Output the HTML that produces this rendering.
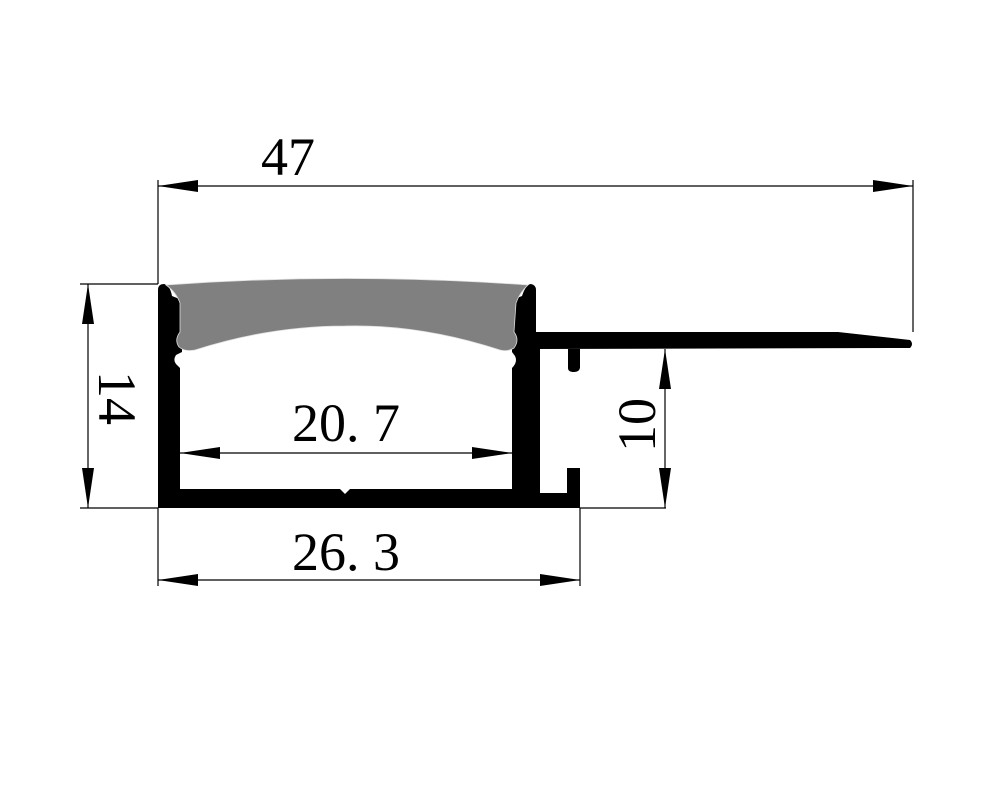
<!DOCTYPE html>
<html><head><meta charset="utf-8"><style>
html,body{margin:0;padding:0;background:#fff;}
svg{display:block;}
text{font-family:"Liberation Serif",serif;font-size:54px;fill:#000;}
</style></head><body>
<svg width="1000" height="787" viewBox="0 0 1000 787" xmlns="http://www.w3.org/2000/svg">
<path fill="#000" d="M158,290 Q158,284 164,284 Q170,285 172,296 L182,300 L182,352 L176,355 Q172,361 178,366 L180,368 L180,489 L512,489 L512,368 Q518,362 515,356 L512,352 L512,300 L522,296 Q526,284 531,284 Q536,285 536,290 L536,332 L838,332 L910,340 Q914,344 910,348 L536,349 L536,493 L567,493 L567,474 Q568,468 574,468 Q580,469 580,475 L580,508 L158,508 Z"/>
<rect x="536" y="349" width="31" height="144" fill="#fff"/>
<path fill="#000" d="M568,349 L580,349 L580,368 Q579,372 574,372 Q568,372 568,368 Z"/>
<path fill="#000" d="M567,468 L580,468 L580,508 L567,508 Z"/>
<path fill="#000" d="M536,349 L536,493 L540,493 L540,349 Z"/>
<path fill="#fff" d="M340,489 L350,489 L345,494 Z"/>
<path fill="#808080" stroke="#ddd" stroke-width="0.8" d="M166,285 Q345,272 528,285 Q520,292 516,303 L514,332 Q520,340 514,348 Q508,352 500,350 Q420,324 345,326 Q270,326 195,350 Q185,352 179,347 Q174,340 180,332 L180,303 Q176,292 166,285 Z"/>
<g stroke="#000" stroke-width="1.2" fill="none">
<line x1="158" y1="180" x2="158" y2="284"/>
<line x1="913" y1="180" x2="913" y2="332"/>
<line x1="158" y1="186" x2="913" y2="186"/>
<line x1="80" y1="284" x2="158" y2="284"/>
<line x1="80" y1="508" x2="158" y2="508"/>
<line x1="88" y1="284" x2="88" y2="508"/>
<line x1="580" y1="508" x2="666" y2="508"/>
<line x1="665" y1="349" x2="665" y2="508"/>
<line x1="580" y1="508" x2="580" y2="586"/>
<line x1="158" y1="508" x2="158" y2="586"/>
<line x1="158" y1="580" x2="580" y2="580"/>
<line x1="180" y1="453" x2="512" y2="453"/>
</g>
<g fill="#000">
<path d="M158,186 L198,180 L198,192 Z"/>
<path d="M913,186 L873,180 L873,192 Z"/>
<path d="M88,284 L82,324 L94,324 Z"/>
<path d="M88,508 L82,468 L94,468 Z"/>
<path d="M665,349 L659,389 L671,389 Z"/>
<path d="M665,508 L659,468 L671,468 Z"/>
<path d="M158,580 L198,574 L198,586 Z"/>
<path d="M580,580 L540,574 L540,586 Z"/>
<path d="M180,453 L220,447 L220,459 Z"/>
<path d="M512,453 L472,447 L472,459 Z"/>
</g>
<text x="261" y="175">47</text>
<text x="292" y="441">20. 7</text>
<text x="292" y="570">26. 3</text>
<text transform="translate(99,398) rotate(90)" text-anchor="middle">14</text>
<text transform="translate(655,425) rotate(-90)" text-anchor="middle">10</text>
</svg>
</body></html>
